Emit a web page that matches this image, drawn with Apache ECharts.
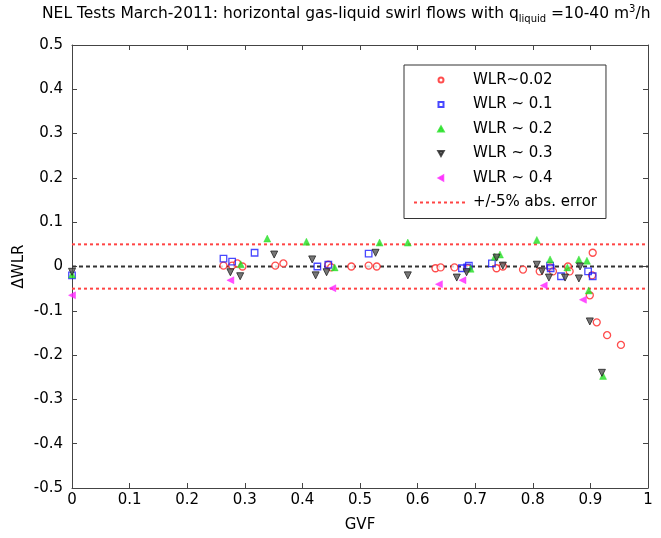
<!DOCTYPE html>
<html>
<head>
<meta charset="utf-8">
<script src="https://cdn.jsdelivr.net/npm/echarts@6/dist/echarts.min.js"></script>
<style>html,body{margin:0;padding:0;background:#fff}#c{width:661px;height:538px}</style>
</head>
<body>
<div id="c"></div>
<script>
var xTickLabels = ['0','0.1','0.2','0.3','0.4','0.5','0.6','0.7','0.8','0.9','1'];
var yTickLabels = ['-0.5','-0.4','-0.3','-0.2','-0.1','0','0.1','0.2','0.3','0.4','0.5'];

var wlr002 = [[0.263,0.002],[0.278,0.002],[0.287,0.007],[0.296,0.0],[0.353,0.002],[0.367,0.007],
  [0.445,0.004],[0.450,-0.002],[0.485,0.0],[0.515,0.002],[0.529,0.0],[0.631,-0.004],[0.640,-0.002],
  [0.664,-0.002],[0.687,-0.004],[0.737,-0.004],[0.748,0.0],[0.783,-0.007],[0.812,-0.011],[0.830,-0.002],
  [0.835,-0.011],[0.861,0.0],[0.864,-0.011],[0.904,0.031],[0.903,-0.020],[0.899,-0.065],[0.911,-0.126],
  [0.929,-0.155],[0.953,-0.177]];
var wlr01 = [[0.0,-0.020],[0.263,0.018],[0.278,0.011],[0.317,0.031],[0.426,0.0],[0.445,0.004],[0.515,0.029],
  [0.677,-0.004],[0.686,-0.002],[0.689,0.002],[0.729,0.007],[0.830,0.002],[0.831,-0.004],[0.849,-0.022],
  [0.896,-0.011],[0.904,-0.022]];
var wlr02 = [[0.0,-0.018],[0.293,0.005],[0.339,0.063],[0.407,0.056],[0.456,-0.002],[0.534,0.054],[0.583,0.054],
  [0.692,-0.005],[0.734,0.022],[0.743,0.027],[0.807,0.060],[0.830,0.016],[0.860,-0.002],[0.880,0.016],
  [0.894,0.013],[0.897,-0.054],[0.922,-0.247]];
var wlr03 = [[0.0,-0.012],[0.275,-0.013],[0.292,-0.022],[0.351,0.027],[0.417,0.016],[0.423,-0.020],[0.442,-0.013],
  [0.527,0.031],[0.583,-0.020],[0.668,-0.025],[0.685,-0.013],[0.737,0.020],[0.748,0.002],[0.807,0.004],
  [0.816,-0.011],[0.828,-0.025],[0.856,-0.025],[0.880,-0.027],[0.882,0.0],[0.899,-0.124],[0.920,-0.240]];
var wlr04 = [[0.0,-0.065],[0.275,-0.031],[0.452,-0.049],[0.637,-0.040],[0.678,-0.031],[0.819,-0.043],[0.887,-0.075]];
var errUpper = [[0,0.05],[1,0.05]];
var errLower = [[0,-0.05],[1,-0.05]];
var zeroLine = [[0,0],[1,0]];

var FONT = '"DejaVu Sans", sans-serif';
var axisCol = '#444';

var chart = echarts.init(document.getElementById('c'));
function xAx(pos, show) {
  return {
    type: 'value', position: pos, min: 0, max: 1, interval: 0.1,
    axisLine: {show: true, onZero: false, lineStyle: {color: axisCol, width: 1}},
    axisTick: {show: true, inside: true, length: 5, lineStyle: {color: axisCol}},
    splitLine: {show: false},
    axisLabel: show ? {show: true, margin: 5, color: '#000', fontSize: 15, fontFamily: FONT,
      formatter: function (v, i) { return xTickLabels[i]; }} : {show: false},
    name: show ? 'GVF' : '', nameLocation: 'middle', nameGap: 30, nameMoveOverlap: false,
    nameTextStyle: {color: '#000', fontSize: 15, fontFamily: FONT}
  };
}
function yAx(pos, show) {
  return {
    type: 'value', position: pos, min: -0.5, max: 0.5, interval: 0.1,
    axisLine: {show: true, onZero: false, lineStyle: {color: axisCol, width: 1}},
    axisTick: {show: true, inside: true, length: 5, lineStyle: {color: axisCol}},
    splitLine: {show: false},
    axisLabel: show ? {show: true, margin: 9, color: '#000', fontSize: 15, fontFamily: FONT,
      formatter: function (v, i) { return yTickLabels[i]; }} : {show: false},
    name: show ? 'ΔWLR' : '', nameLocation: 'middle', nameGap: 45, nameRotate: 90, nameMoveOverlap: false,
    nameTextStyle: {color: '#000', fontSize: 15, fontFamily: FONT}
  };
}

var option = {
  backgroundColor: '#fff',
  animation: false,
  title: {
    text: '{a|NEL Tests March-2011: horizontal gas-liquid swirl flows with q}{sub|liquid}{a| =10-40 m}{sup|3}{a|/h}',
    left: 42, top: 4, padding: 0,
    textStyle: {
      fontWeight: 'normal',
      rich: {
        a: {fontSize: 15.5, fontFamily: FONT, color: '#000', fontWeight: 'normal', lineHeight: 20, verticalAlign: 'middle'},
        sub: {fontSize: 10, fontFamily: FONT, color: '#000', fontWeight: 'normal', verticalAlign: 'bottom', lineHeight: 20},
        sup: {fontSize: 10, fontFamily: FONT, color: '#000', fontWeight: 'normal', verticalAlign: 'top', lineHeight: 20}
      }
    }
  },
  grid: {left: 72, right: 13, top: 45, bottom: 46, containLabel: false},
  xAxis: [xAx('bottom', true), xAx('top', false)],
  yAxis: [yAx('left', true), yAx('right', false)],
  legend: {
    orient: 'vertical', left: 404, top: 65,
    padding: [7, 9, 8, 9],
    borderColor: '#333', borderWidth: 1, backgroundColor: '#fff',
    itemWidth: 54, itemHeight: 5, itemGap: 8.5,
    symbolRotate: 0, symbolKeepAspect: true,
    textStyle: {fontSize: 15, fontFamily: FONT, color: '#000', lineHeight: 16},
    data: [
      {name: 'WLR~0.02', icon: 'circle'},
      {name: 'WLR ~ 0.1', icon: 'path://M0,0L10,0L10,10L0,10Z'},
      {name: 'WLR ~ 0.2', icon: 'path://M5,0L10,9L0,9Z'},
      {name: 'WLR ~ 0.3', icon: 'path://M0,0L10,0L5,9Z'},
      {name: 'WLR ~ 0.4', icon: 'path://M9,0L9,10L0,5Z'},
      {name: '+/-5% abs. error', itemStyle: {color: 'rgba(0,0,0,0)', borderColor: 'rgba(0,0,0,0)', borderWidth: 0}}
    ]
  },
  series: [
    {name: '__zero', type: 'line', data: zeroLine, symbol: 'none', silent: true, z: 1,
      lineStyle: {color: '#333', width: 2, type: [4, 3]}},
    {name: '+/-5% abs. error', type: 'line', data: errUpper, symbol: 'none', silent: true, z: 1,
      itemStyle: {color: '#ff4444'}, lineStyle: {color: '#ff4444', width: 2, type: [3, 3]}},
    {name: '+/-5% abs. error', type: 'line', data: errLower, symbol: 'none', silent: true, z: 1,
      itemStyle: {color: '#ff4444'}, lineStyle: {color: '#ff4444', width: 2, type: [3, 3]}},
    {name: 'WLR~0.02', type: 'scatter', data: wlr002, symbol: 'circle', symbolSize: 7, z: 3,
      itemStyle: {color: '#fff', borderColor: '#ff2020', borderWidth: 1.3}},
    {name: 'WLR ~ 0.1', type: 'scatter', data: wlr01, symbol: 'rect', symbolSize: 6.5, z: 3,
      itemStyle: {color: 'rgba(255,255,255,0)', borderColor: '#1a1aff', borderWidth: 1.3}},
    {name: 'WLR ~ 0.2', type: 'scatter', data: wlr02, symbol: 'triangle', symbolSize: 7, z: 3,
      itemStyle: {color: '#22e022', borderColor: '#22e022', borderWidth: 0.5}},
    {name: 'WLR ~ 0.3', type: 'scatter', data: wlr03, symbol: 'triangle', symbolSize: 7, symbolRotate: 180, z: 3,
      itemStyle: {color: '#555', borderColor: '#222', borderWidth: 1}},
    {name: 'WLR ~ 0.4', type: 'scatter', data: wlr04, symbol: 'triangle', symbolSize: 7, symbolRotate: 90, z: 3,
      itemStyle: {color: '#ff22ff', borderColor: '#ff22ff', borderWidth: 0.5}}
  ]
};
chart.setOption(option);
</script>
</body>
</html>
